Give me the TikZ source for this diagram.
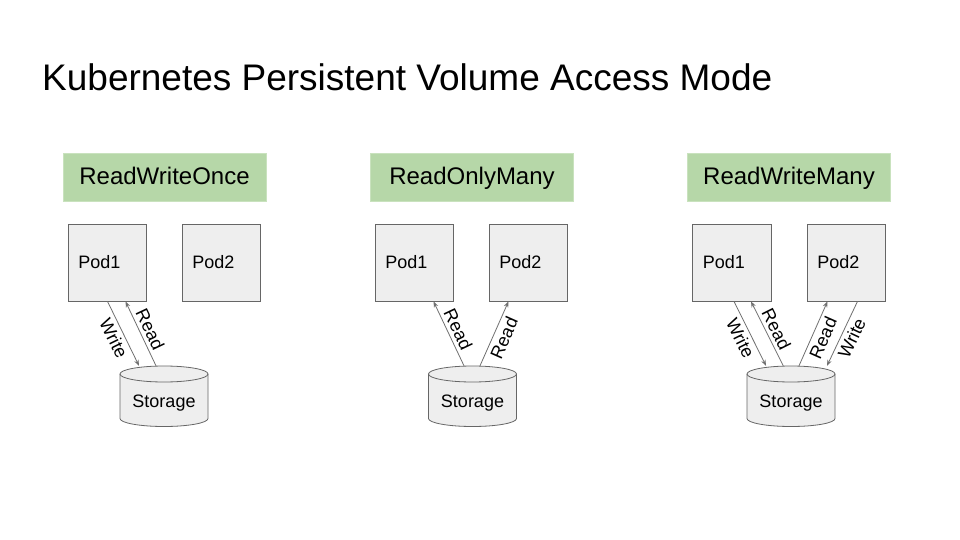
\documentclass[tikz,border=0pt]{standalone}
\usepackage{fontspec}
\setmainfont{Liberation Sans}
\usetikzlibrary{arrows.meta}
\definecolor{boxgreen}{HTML}{B6D7A8}
\definecolor{boxgreenline}{HTML}{C9E2BE}
\definecolor{podfill}{HTML}{EEEEEE}
\definecolor{lineg}{HTML}{666666}
\definecolor{arrg}{HTML}{707070}
\tikzset{
  modebox/.style={draw=boxgreenline, fill=boxgreen, line width=0.8pt, minimum width=203pt, minimum height=48pt, inner sep=0pt, text height=17.2pt, text depth=2.2pt, font=\fontsize{24}{28}\selectfont, text=black},
  podbox/.style={draw=lineg, fill=podfill, line width=0.8pt, minimum width=78.5pt, minimum height=77pt, inner xsep=10pt, inner ysep=0pt, text width=58.5pt, align=left, font=\fontsize{18}{21}\selectfont},
  cylbox/.style={minimum width=88pt, minimum height=60pt, inner sep=0pt},
  cyltext/.style={font=\fontsize{18}{21}\selectfont, inner sep=0pt},
  conn/.style={draw=arrg, line width=0.8pt, -{Stealth[length=6pt,width=4.5pt]}},
  lab/.style={font=\fontsize{18}{21}\selectfont, sloped, inner sep=3.5pt}
}
\newcommand{\drawcyl}[1]{%
  \draw[draw=lineg, fill=podfill, line width=0.8pt]
    (#1-44,374) -- (#1-44,418.5) arc[start angle=180, end angle=360, x radius=44pt, y radius=8pt]
    -- (#1+44,374) arc[start angle=0, end angle=180, x radius=44pt, y radius=8pt] -- cycle;
  \draw[draw=lineg, line width=0.8pt]
    (#1-44,374) arc[start angle=180, end angle=360, x radius=44pt, y radius=8pt];
}
\begin{document}
\begin{tikzpicture}[x=1pt, y=-1pt]
\useasboundingbox (0,0) rectangle (960,540);
\fill[white] (0,0) rectangle (960,540);

\node[anchor=base west, inner sep=0pt, font=\fontsize{37}{44}\selectfont] (title) at (42,90.7) {Kubernetes Persistent Volume Access Mode};

% mode boxes
\node[modebox] (m1) at (164.5,177.5) {ReadWriteOnce};
\node[modebox] (m2) at (472,177.5) {ReadOnlyMany};
\node[modebox] (m3) at (789,177.5) {ReadWriteMany};

% pods
\node[podbox] (p11) at (107.5,262.5) {Pod1};
\node[podbox] (p12) at (221.5,262.5) {Pod2};
\node[podbox] (p21) at (414.5,262.5) {Pod1};
\node[podbox] (p22) at (528.5,262.5) {Pod2};
\node[podbox] (p31) at (732,262.5) {Pod1};
\node[podbox] (p32) at (846.5,262.5) {Pod2};

% storage cylinders
\drawcyl{164}
\drawcyl{472.5}
\drawcyl{791}
\node[cylbox] (c1) at (164,396) {};
\node[cylbox] (c2) at (472.5,396) {};
\node[cylbox] (c3) at (791,396) {};
\node[cyltext] (s1) at (164,403) {Storage};
\node[cyltext] (s2) at (472.5,403) {Storage};
\node[cyltext] (s3) at (791,403) {Storage};

% group 1
\draw[conn] (p11.south) -- node[lab, below] {Write} ([xshift=-25pt]c1.north);
\draw[conn] ([xshift=-8pt]c1.north) -- node[lab, above] {Read} ([xshift=18pt]p11.south);

% group 2
\draw[conn] ([xshift=-8.5pt]c2.north) -- node[lab, above] {Read} ([xshift=19pt]p21.south);
\draw[conn] ([xshift=7.5pt]c2.north) -- node[lab, below] {Read} ([xshift=-20pt]p22.south);

% group 3
\draw[conn] ([xshift=2pt]p31.south) -- node[lab, below] {Write} ([xshift=-25pt]c3.north);
\draw[conn] ([xshift=-7.7pt]c3.north) -- node[lab, above] {Read} ([xshift=19pt]p31.south);
\draw[conn] ([xshift=8pt]c3.north) -- node[lab, below] {Read} ([xshift=-19pt]p32.south);
\draw[conn] ([xshift=11pt]p32.south) -- node[lab, below] {Write} ([xshift=36pt]c3.north);
\end{tikzpicture}
\end{document}
